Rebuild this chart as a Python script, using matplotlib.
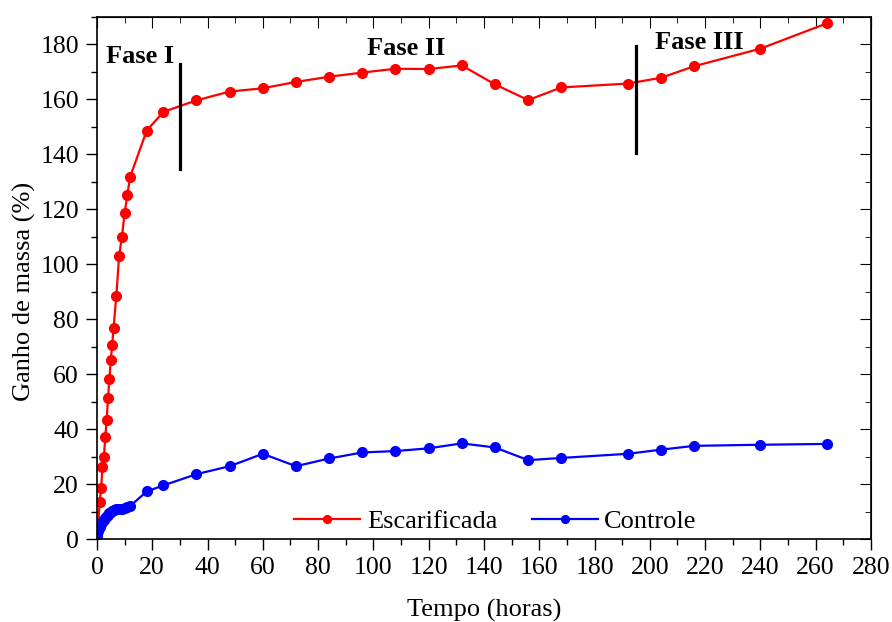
import matplotlib.pyplot as plt
from matplotlib.ticker import MultipleLocator

plt.rcParams['font.family'] = ['Liberation Serif', 'DejaVu Serif']

# tempo em horas
tempo = [0, 0.5, 1, 1.5, 2, 2.5, 3, 3.5, 4, 4.5, 5, 5.5, 6, 7, 8, 9, 10, 11, 12,
         18, 24, 36, 48, 60, 72, 84, 96, 108, 120, 132, 144, 156, 168, 192, 204,
         216, 240, 264]

# ganho de massa (%)
escarificada = [0.8, 6.3, 13.5, 18.5, 26.2, 29.7, 37.1, 43.2, 51.4, 58.2, 65.1,
                70.5, 76.7, 88.5, 102.8, 109.8, 118.5, 125.3, 131.8,
                148.6, 155.4, 159.6, 162.8, 164.0, 166.3, 168.2, 169.7, 171.1,
                171.0, 172.3, 165.4, 159.7, 164.3, 165.7, 167.8, 172.0, 178.4, 187.6]
controle = [1.0, 3.0, 4.5, 5.5, 6.3, 7.0, 7.6, 8.2, 8.8, 9.3, 9.8, 10.2, 10.5,
            10.8, 11.0, 11.0, 11.2, 11.5, 12.0,
            17.3, 19.5, 23.6, 26.5, 31.0, 26.5, 29.3, 31.5, 32.0, 33.0, 34.8,
            33.3, 28.7, 29.5, 31.0, 32.5, 33.9, 34.3, 34.6]

# fases: (posição x, y inferior, y superior)
fases_linhas = [(30, 134.5, 172.8), (195, 140.5, 179.3)]
fases_texto = [('Fase I', 15.5, 175.5), ('Fase II', 112, 178.5), ('Fase III', 218, 180.5)]

fig = plt.figure(figsize=(8.92, 6.22), dpi=100)
ax = fig.add_axes([0.1087, 0.1334, 0.9764 - 0.1087, 0.973 - 0.1334])

ax.plot(tempo, escarificada, '-o', color='red', lw=1.6, ms=7, label='Escarificada')
ax.plot(tempo, controle, '-o', color='blue', lw=1.6, ms=7, label='Controle')

for x, y0, y1 in fases_linhas:
    ax.plot([x, x], [y0, y1], color='black', lw=2.3)
for txt, x, y in fases_texto:
    ax.text(x, y, txt, ha='center', va='center', fontsize=19, fontweight='bold')

ax.set_xlim(0, 280)
ax.set_ylim(0, 190)
ax.xaxis.set_major_locator(MultipleLocator(20))
ax.xaxis.set_minor_locator(MultipleLocator(10))
ax.yaxis.set_major_locator(MultipleLocator(20))
ax.yaxis.set_minor_locator(MultipleLocator(10))

# ticks para fora embaixo/esquerda, para dentro em cima/direita
ax.tick_params(which='major', direction='out', length=8, width=1, labelsize=18.5, pad=5)
ax.tick_params(which='minor', direction='out', length=4.5, width=1)
sec_x = ax.secondary_xaxis('top')
sec_x.xaxis.set_major_locator(MultipleLocator(20))
sec_x.xaxis.set_minor_locator(MultipleLocator(10))
sec_x.tick_params(which='major', direction='in', length=8, labeltop=False)
sec_x.tick_params(which='minor', direction='in', length=4.5)
sec_y = ax.secondary_yaxis('right')
sec_y.yaxis.set_major_locator(MultipleLocator(20))
sec_y.yaxis.set_minor_locator(MultipleLocator(10))
sec_y.tick_params(which='major', direction='in', length=8, labelright=False)
sec_y.tick_params(which='minor', direction='in', length=4.5)

for s in ax.spines.values():
    s.set_linewidth(1.2)

ax.set_xlabel('Tempo (horas)', fontsize=19, labelpad=14)
ax.set_ylabel('Ganho de massa (%)', fontsize=19)
ax.yaxis.set_label_coords(-0.079, 0.474)

leg = ax.legend(loc='center', ncol=2, frameon=False, fontsize=19,
                markerscale=0.8, handlelength=2.5, handletextpad=0.25,
                columnspacing=1.3, borderpad=0, bbox_to_anchor=(0.515, 0.034))

fig.savefig('out.png', dpi=100)
